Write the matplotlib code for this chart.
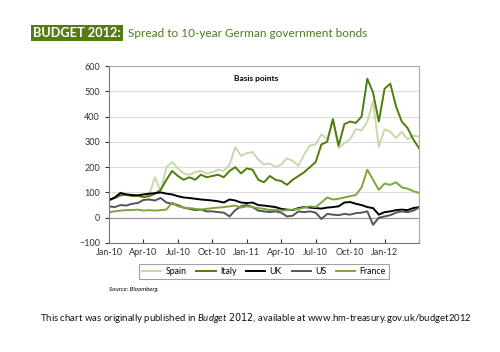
import numpy as np
from matplotlib import pyplot as plt

plt.rcParams['font.family'] = ['Lato', 'DejaVu Sans']
plt.rcParams['mathtext.fontset'] = 'custom'
plt.rcParams['mathtext.it'] = 'Lato:italic'

# months since Jan-2010, half-month steps
months = np.arange(0, 27.5, 0.5)

spain = [65, 80, 95, 88, 90, 85, 80, 90, 160, 105, 200, 220, 195, 175, 170, 180,
         185, 175, 180, 190, 185, 210, 280, 245, 255, 260, 230, 210, 215, 200, 210,
         235, 225, 205, 250, 285, 290, 330, 310, 385, 275, 295, 310, 350, 345, 380,
         460, 280, 350, 340, 315, 340, 310, 325, 320]
italy = [70, 78, 88, 92, 85, 88, 82, 85, 95, 110, 150, 185, 165, 150, 160, 150,
         170, 160, 165, 170, 160, 185, 200, 175, 195, 190, 150, 140, 165, 150, 145,
         130, 150, 165, 180, 200, 220, 290, 300, 390, 285, 370, 380, 375, 400, 550,
         495, 380, 510, 530, 440, 380, 355, 310, 275]
uk = [70, 80, 98, 92, 90, 88, 92, 95, 97, 100, 95, 92, 85, 80, 78, 75, 72, 70,
      68, 65, 60, 72, 68, 60, 58, 60, 50, 48, 45, 42, 35, 32, 30, 38, 42, 40, 38,
      36, 40, 42, 45, 60, 62, 55, 50, 42, 38, 12, 22, 25, 30, 32, 30, 38, 42]
us = [45, 42, 50, 48, 55, 58, 70, 72, 68, 78, 60, 55, 50, 40, 35, 30, 32, 25, 25,
      22, 20, 5, 30, 45, 50, 42, 28, 25, 22, 25, 20, 5, 8, 25, 22, 25, 20, -5, 15,
      12, 10, 15, 12, 18, 20, 25, -28, 0, 5, 10, 20, 25, 22, 28, 40]
france = [22, 25, 28, 30, 30, 32, 28, 30, 28, 30, 32, 60, 45, 40, 38, 35, 32, 35,
          38, 40, 42, 45, 48, 40, 45, 42, 38, 35, 30, 32, 28, 30, 32, 35, 40, 45,
          42, 60, 80, 72, 75, 80, 85, 90, 120, 190, 150, 110, 135, 130, 140, 120,
          115, 105, 98]

tick_months = np.arange(0, 28, 3)
tick_labels = ['Jan-10', 'Apr-10', 'Jul-10', 'Oct-10', 'Jan-11', 'Apr-10',
               'Jul-10', 'Oct-10', 'Jan-12', '']

fig = plt.figure(figsize=(5, 3.52), dpi=100)
ax = fig.add_axes([0.218, 0.3097, 0.62, 0.5028])

ax.plot(months, spain, color='#c9d8ab', lw=1.4, label='Spain')
ax.plot(months, italy, color='#4f7d0c', lw=1.4, label='Italy')
ax.plot(months, uk, color='black', lw=1.4, label='UK')
ax.plot(months, us, color='#555555', lw=1.4, label='US')
ax.plot(months, france, color='#7ea63b', lw=1.4, label='France')

ax.set_xlim(0, 27)
ax.set_ylim(-100, 600)
ax.set_yticks(range(-100, 601, 100))
ax.set_xticks(tick_months)
ax.set_xticklabels(tick_labels)
ax.tick_params(axis='both', labelsize=6.5, colors='#333333', length=3)
ax.tick_params(axis='x', direction='in')
for y in range(-100, 601, 100):
    if y == 0:
        ax.axhline(y, color='#999999', lw=0.9, zorder=0)
    elif y > -100:
        ax.axhline(y, color='#dddddd', lw=0.8, zorder=0)
for s in ['top', 'right']:
    ax.spines[s].set_color('#aaaaaa')
for s in ['left', 'bottom']:
    ax.spines[s].set_color('#777777')

ax.text(0.474, 0.927, 'Basis points', transform=ax.transAxes, ha='center',
        va='center', fontsize=6, fontweight='bold')

leg = ax.legend(loc='center', bbox_to_anchor=(0.5, -0.162), ncol=5,
                fontsize=6.3, frameon=True, fancybox=False, edgecolor='#888888',
                handlelength=2.2, columnspacing=1.1, borderpad=0.35,
                handletextpad=0.5)
leg.get_frame().set_linewidth(0.8)

fig.text(0.218, 0.178, 'Source: Bloomberg.', fontsize=4.5, style='italic',
         va='center')

fig.text(0.066, 0.906, 'BUDGET 2012:', fontsize=9.2, fontweight='bold',
         color='white', va='center',
         bbox=dict(boxstyle='square,pad=0.17', fc='#567c18', ec='none'))
fig.text(0.256, 0.906, 'Spread to 10-year German government bonds', fontsize=8.5,
         color='#4d7a1e', va='center')

fig.text(0.512, 0.097, r'This chart was originally published in $\it{Budget\ 2012}$, '
         'available at www.hm-treasury.gov.uk/budget2012',
         fontsize=6.9, ha='center', va='center', color='#111111')

fig.savefig('out.png', dpi=100)
